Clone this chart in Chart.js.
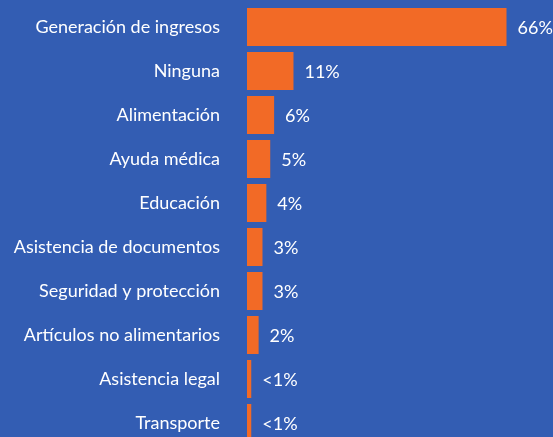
<!DOCTYPE html>
<html>
<head>
<meta charset="utf-8">
<script src="https://cdn.jsdelivr.net/npm/chart.js@4/dist/chart.umd.min.js"></script>
<style>
  html, body { margin: 0; padding: 0; background: #335db3; overflow: hidden; }
  canvas { display: block; }
</style>
</head>
<body>
<canvas id="chart" width="553" height="448"></canvas>
<script>
const categories = [
  'Generación de ingresos', 'Ninguna', 'Alimentación', 'Ayuda médica', 'Educación',
  'Asistencia de documentos', 'Seguridad y protección', 'Artículos no alimentarios',
  'Asistencia legal', 'Transporte'
];
const values = [66, 11, 6, 5, 4, 3, 3, 2, 0.1, 0.1];
const valueLabels = ['66%', '11%', '6%', '5%', '4%', '3%', '3%', '2%', '<1%', '<1%'];

const fontFamily = 'Lato, "Open Sans", sans-serif';

// writes the % text just past the end of each bar
const barLabels = {
  id: 'barLabels',
  afterDatasetsDraw(chart) {
    const ctx = chart.ctx;
    const meta = chart.getDatasetMeta(0);
    ctx.save();
    ctx.fillStyle = '#ffffff';
    ctx.font = '18px ' + fontFamily;
    ctx.textAlign = 'left';
    ctx.textBaseline = 'middle';
    meta.data.forEach((bar, i) => {
      ctx.fillText(valueLabels[i], bar.x + 11, bar.y + 1);
    });
    ctx.restore();
  }
};

const ctx = document.getElementById('chart').getContext('2d');
new Chart(ctx, {
  type: 'bar',
  data: {
    labels: categories,
    datasets: [{
      data: values,
      base: -1,
      backgroundColor: '#f26a26',
      borderWidth: 0,
      barPercentage: 0.864,
      categoryPercentage: 1
    }]
  },
  options: {
    indexAxis: 'y',
    responsive: false,
    animation: false,
    layout: { padding: { top: 5, bottom: 3, left: 0, right: 0 } },
    plugins: {
      legend: { display: false },
      tooltip: { enabled: false }
    },
    scales: {
      x: {
        display: false,
        min: -1,
        max: 78
      },
      y: {
        afterFit(scale) {
          scale.width = 247;
          scale.paddingTop = 0;
          scale.paddingBottom = 0;
        },
        grid: { display: false, drawTicks: false },
        border: { display: false },
        ticks: {
          color: '#ffffff',
          padding: 27,
          font: { family: fontFamily, size: 18 }
        }
      }
    }
  },
  plugins: [barLabels]
});
</script>
</body>
</html>
